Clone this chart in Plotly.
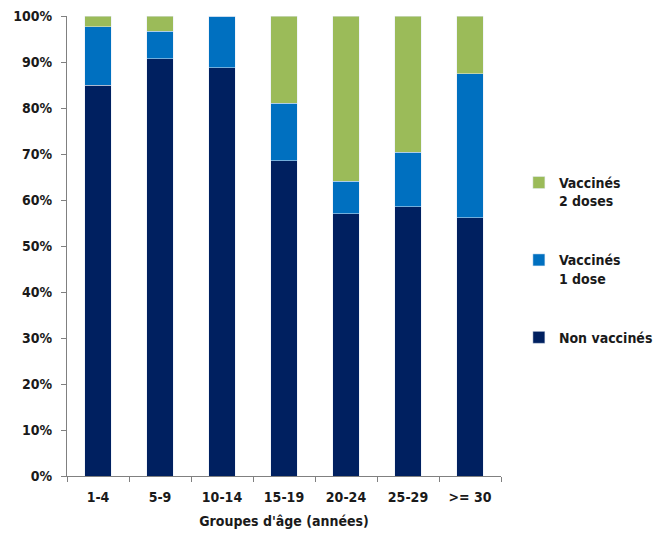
import plotly.graph_objects as go

categories = ["1-4", "5-9", "10-14", "15-19", "20-24", "25-29", ">= 30"]
non_vaccines = [85.0, 90.7, 88.8, 68.5, 57.0, 58.5, 56.1]
vaccines_1 = [12.7, 6.0, 11.2, 12.5, 7.1, 11.9, 31.3]
vaccines_2 = [2.3, 3.3, 0.0, 19.0, 35.9, 29.6, 12.6]
y_ticks = [0, 10, 20, 30, 40, 50, 60, 70, 80, 90, 100]
y_labels = [f"{v}%" for v in y_ticks]

FONT = "DejaVu Sans Condensed, Liberation Sans, Arial, sans-serif"

fig = go.Figure()
fig.add_trace(go.Bar(x=categories, y=non_vaccines, name="<b>Non vaccinés</b>",
                     marker_color="#002060", legendgroup="a", legendrank=3))
fig.add_trace(go.Bar(x=categories, y=vaccines_1, name="<b>Vaccinés<br>1 dose</b>",
                     marker_color="#0070C0", legendgroup="b", legendrank=2))
fig.add_trace(go.Bar(x=categories, y=vaccines_2, name="<b>Vaccinés<br>2 doses</b>",
                     marker_color="#9BBB59", legendgroup="c", legendrank=1))

fig.update_layout(
    barmode="stack",
    bargap=0.58,
    width=661, height=535,
    margin=dict(l=67, r=160, t=16, b=59),
    paper_bgcolor="white", plot_bgcolor="white",
    font=dict(family=FONT, size=14, color="#1a1a1a"),
    showlegend=True,
    legend=dict(xref="container", yref="container",
                x=0.785, xanchor="left", y=0.688, yanchor="top",
                traceorder="grouped", tracegroupgap=38,
                valign="top", itemwidth=30,
                font=dict(family=FONT, size=14, color="#1a1a1a")),
    xaxis=dict(
        title=dict(text="<b>Groupes d'âge (années)</b>", standoff=12,
                   font=dict(family=FONT, size=14)),
        tickfont=dict(family=FONT, size=14),
        tickprefix="<b>", ticksuffix="</b>",
        ticklabelstandoff=8,
        showline=True, linecolor="#808080", linewidth=1,
        ticks="outside", tickson="boundaries", ticklen=5, tickcolor="#808080",
        showgrid=False, zeroline=False, automargin=False,
    ),
    yaxis=dict(
        range=[0, 100],
        tickvals=y_ticks,
        ticktext=[f"<b>{t}</b>" for t in y_labels],
        tickfont=dict(family=FONT, size=14),
        ticklabelstandoff=6,
        showline=True, linecolor="#808080", linewidth=1,
        ticks="outside", ticklen=5, tickcolor="#808080",
        showgrid=False, zeroline=False, automargin=False,
    ),
)

fig.write_html("out.html")
